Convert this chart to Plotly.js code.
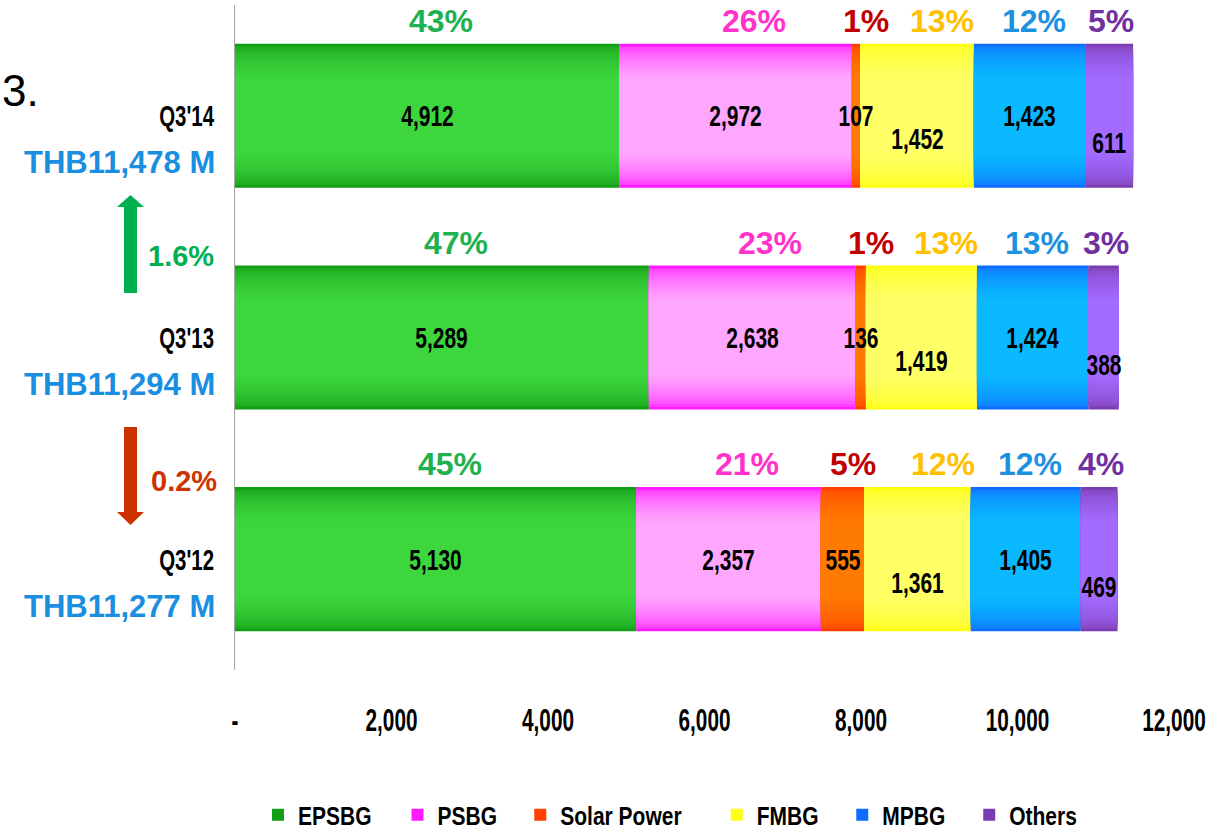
<!DOCTYPE html>
<html>
<head>
<meta charset="utf-8">
<script src="https://cdn.plot.ly/plotly-3.0.1.min.js"></script>
<style>
  html, body { margin: 0; padding: 0; background: #ffffff; }
  #chart { width: 1210px; height: 830px; }
</style>
</head>
<body>
<div id="chart"></div>
<script>
// ---------- Data ----------
const categories = ["Q3'12", "Q3'13", "Q3'14"];
const totalLabels = ["THB11,277 M", "THB11,294 M", "THB11,478 M"];
const seriesNames = ["EPSBG", "PSBG", "Solar Power", "FMBG", "MPBG", "Others"];
const EPSBG      = [5130, 5289, 4912];
const PSBG       = [2357, 2638, 2972];
const SolarPower = [555, 136, 107];
const FMBG       = [1361, 1419, 1452];
const MPBG       = [1405, 1424, 1423];
const Others     = [469, 388, 611];
const changeUp = "1.6%";    // Q3'13 -> Q3'14
const changeDown = "0.2%";  // Q3'12 -> Q3'13
const xTickVals = [0, 2000, 4000, 6000, 8000, 10000, 12000];
const xTickText = ["-", "2,000", "4,000", "6,000", "8,000", "10,000", "12,000"];

// ---------- Styles ----------
const seriesValues = [EPSBG, PSBG, SolarPower, FMBG, MPBG, Others];
const edgeColors   = ["#139e17", "#ff1aff", "#ff4000", "#ffff10", "#0f6cff", "#7a3cb0"];
const centerColors = ["#3dd63d", "#ffa6ff", "#ff7a00", "#ffff66", "#0ab9ff", "#a36bff"];
const pctColors    = ["#1fb050", "#ff33cc", "#c00000", "#ffc000", "#1e90e0", "#7030a0"];
const pctXShift    = [14, 18, 10, 25, 4, 2];
const valYShift    = [0, 0, 0, -23, 0, -27];
// condensed faces: the "cfNN" token marks the horizontal squeeze applied after drawing
const narrow70 = '"Liberation Sans", Arial, cf70, sans-serif';
const narrow67 = '"Liberation Sans", Arial, cf67, sans-serif';
const narrow68 = '"Liberation Sans", Arial, cf68, sans-serif';
const narrow84 = '"Liberation Sans", Arial, cf84, sans-serif';
const arial = '"Liberation Sans", Arial, sans-serif';

// plot area in pixels
const L = 235, R = 1174, T = 5, B = 670;
const W = R - L, H = B - T;
const px = x => (x - L) / W;
const py = y => 1 - (y - T) / H;

function hex2rgb(h) { return [1,3,5].map(i => parseInt(h.substr(i, 2), 16)); }
function mix(a, b, t) {
  const A = hex2rgb(a), Bc = hex2rgb(b);
  return 'rgb(' + A.map((v, i) => Math.round(v + (Bc[i] - v) * t)).join(',') + ')';
}

// bar thickness layers (outer = full bar) used to imitate the vertical gradient
const layerWidths = [0.65, 0.625, 0.60, 0.575, 0.55, 0.525, 0.50, 0.475, 0.45, 0.425, 0.40, 0.37, 0.34];

// cumulative bases
const bases = [];
let running = categories.map(() => 0);
seriesValues.forEach(vals => {
  bases.push(running.slice());
  running = running.map((r, j) => r + vals[j]);
});
const totals = running;

const traces = [];
seriesValues.forEach((vals, i) => {
  layerWidths.forEach((w, k) => {
    const t = k / (layerWidths.length - 1);
    traces.push({
      type: 'bar',
      orientation: 'h',
      name: seriesNames[i] + '\u00a0',
      legendgroup: seriesNames[i],
      showlegend: k === 0,
      y: categories,
      x: vals,
      base: bases[i],
      width: w,
      marker: { color: mix(edgeColors[i], centerColors[i], Math.sqrt(t)), line: { width: 0 } },
      hoverinfo: 'skip'
    });
  });
});

const annotations = [];
seriesValues.forEach((vals, i) => {
  vals.forEach((v, j) => {
    annotations.push({
      x: bases[i][j] + v / 2, y: categories[j], xref: 'x', yref: 'y',
      text: v.toLocaleString('en-US'), showarrow: false, yshift: valYShift[i],
      font: { family: narrow70, size: 30, color: '#000000', weight: 'bold' }
    });
    annotations.push({
      x: bases[i][j] + v / 2, y: categories[j], xref: 'x', yref: 'y',
      text: Math.round(v / totals[j] * 100) + '%', showarrow: false,
      yshift: 95, xshift: pctXShift[i],
      font: { family: arial, size: 32, color: pctColors[i], weight: 'bold' }
    });
  });
});

// total labels (left)
totalLabels.forEach((t, j) => {
  annotations.push({
    x: px(217), y: categories[j], xref: 'paper', yref: 'y', xanchor: 'right',
    text: t, showarrow: false, yshift: -47,
    font: { family: arial, size: 31, color: '#1a8ee0', weight: 'bold' }
  });
});
annotations.push({
  x: px(216), y: py(256), xref: 'paper', yref: 'paper', xanchor: 'right',
  text: changeUp, showarrow: false,
  font: { family: arial, size: 29, color: '#00b050', weight: 'bold' }
});
annotations.push({
  x: px(219), y: py(499), xref: 'paper', yref: 'paper', xanchor: 'right',
  text: changeDown, showarrow: false,
  font: { family: arial, size: 29, color: '#cc3300', weight: 'bold' }
});
annotations.push({
  x: px(0), y: py(64), xref: 'paper', yref: 'paper', xanchor: 'left',
  text: '3.', showarrow: false,
  font: { family: arial, size: 44, color: '#000000' }
});

function P(x, y) { return px(x).toFixed(5) + ',' + py(y).toFixed(5); }
const shapes = [
  { type: 'path', xref: 'paper', yref: 'paper', line: { width: 0 }, fillcolor: '#00b050',
    path: 'M' + P(124, 293) + ' L' + P(124, 207) + ' L' + P(117, 207) + ' L' + P(130.5, 195) +
          ' L' + P(144, 207) + ' L' + P(137, 207) + ' L' + P(137, 293) + ' Z' },
  { type: 'path', xref: 'paper', yref: 'paper', line: { width: 0 }, fillcolor: '#cc3300',
    path: 'M' + P(124, 427) + ' L' + P(124, 512) + ' L' + P(117, 512) + ' L' + P(130.5, 525) +
          ' L' + P(144, 512) + ' L' + P(137, 512) + ' L' + P(137, 427) + ' Z' }
];

const layout = {
  width: 1210, height: 830,
  margin: { l: L, r: 1210 - R, t: T, b: 830 - B, pad: 0, autoexpand: false },
  paper_bgcolor: '#ffffff', plot_bgcolor: '#ffffff',
  barmode: 'overlay',
  showlegend: true,
  legend: {
    orientation: 'h', x: px(258), xanchor: 'left', y: py(815), yanchor: 'middle',
    font: { family: narrow84, size: 25, color: '#000000', weight: 'bold' },
    traceorder: 'normal', itemclick: false, itemdoubleclick: false
  },
  xaxis: {
    range: [0, 12000], tickvals: xTickVals, ticktext: xTickText,
    showgrid: false, zeroline: false, showline: false, ticks: '',
    ticklabelstandoff: 29, ticklabeloverflow: 'allow',
    tickfont: { family: narrow67, size: 31, color: '#000000', weight: 'bold' }
  },
  yaxis: {
    type: 'category', categoryarray: categories, categoryorder: 'array',
    range: [-0.5, 2.5], showgrid: false, zeroline: false,
    showline: true, linecolor: '#a6a6a6', linewidth: 1, ticks: '',
    ticklabelstandoff: 14,
    tickfont: { family: narrow68, size: 30, color: '#000000', weight: 'bold' }
  },
  annotations: annotations,
  shapes: shapes
};

// squeeze the "narrow" texts horizontally around their anchor point
function condense() {
  document.querySelectorAll('#chart text').forEach(el => {
    const st = el.getAttribute('style') || '';
    const m = st.match(/cf(\d\d)/);
    if (!m) return;
    const f = parseInt(m[1], 10) / 100;
    const ax = parseFloat(el.getAttribute('x')) || 0;
    const prev = el.getAttribute('transform') || '';
    el.setAttribute('transform',
      (prev ? prev + ' ' : '') + 'translate(' + ax + ',0) scale(' + f + ',1) translate(' + (-ax) + ',0)');
  });
}

Plotly.newPlot('chart', traces, layout, { displayModeBar: false, staticPlot: true }).then(condense);
</script>
</body>
</html>
